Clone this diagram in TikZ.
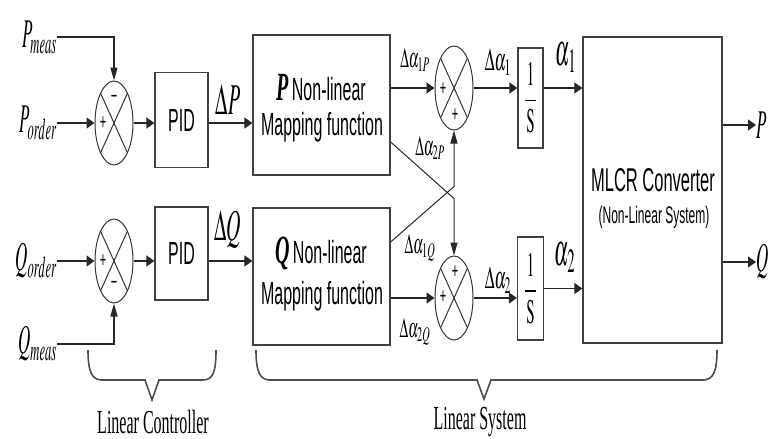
\documentclass[tikz,border=0pt]{standalone}
\usepackage{mathptmx}
\usepackage[no-math]{fontspec}
\setmainfont{Liberation Serif}
\setsansfont{Liberation Sans}
\usepackage{graphicx}
\usetikzlibrary{shapes.geometric,arrows.meta,calc}
\newcommand{\tall}[2][2]{\scalebox{1}[#1]{#2}}
\newcommand{\fs}[1]{\fontsize{#1}{#1}\selectfont}
\begin{document}
\begin{tikzpicture}[x=1pt,y=-1pt,
  blk/.style={draw=black!75, line width=1.3pt, rectangle, inner sep=0pt},
  sumn/.style={draw=black!80, line width=1pt, ellipse, minimum width=38pt, minimum height=84pt, inner sep=0pt},
  conn/.style={draw=black!85, line width=1.3pt},
  ha/.style={conn, -{Triangle[length=8pt,width=11pt]}},
  va/.style={conn, -{Triangle[length=13pt,width=7pt]}},
  lbl/.style={inner sep=0pt},
  sgn/.style={inner sep=0pt, font=\sffamily\fs{11}},
  brace/.style={draw=black!70, line width=1.6pt}]
\useasboundingbox (0,0) rectangle (774,439);

% sum junctions
\node[sumn] (s1) at (114,123) {};
\node[sumn] (s2) at (114,261) {};
\node[sumn] (s3) at (454,88) {};
\node[sumn] (s4) at (454,298) {};
\foreach \n in {s1,s2,s3,s4}{
  \draw[draw=black!80, line width=1pt] ([shift={(-13.4,-29.7)}]\n.center) -- ([shift={(13.4,29.7)}]\n.center);
  \draw[draw=black!80, line width=1pt] ([shift={(-13.4,29.7)}]\n.center) -- ([shift={(13.4,-29.7)}]\n.center);
}
\node[sgn] (s1a) at (103,123) {\tall{+}};
\node[sgn] (s1b) at (114,99) {\tall{\textminus}};
\node[sgn] (s2a) at (103,261) {\tall{+}};
\node[sgn] (s2b) at (114,285) {\tall{\textminus}};
\node[sgn] (s3a) at (443,89) {\tall{+}};
\node[sgn] (s3b) at (455,115) {\tall{+}};
\node[sgn] (s4a) at (455,272) {\tall{+}};
\node[sgn] (s4b) at (443,297) {\tall{+}};

% blocks
\node[blk, minimum width=53pt, minimum height=95pt] (pid1) at (181.5,120) {\tall{\sffamily\fs{16}PID}};
\node[blk, minimum width=53pt, minimum height=93pt] (pid2) at (181.5,253.5) {\tall{\sffamily\fs{16}PID}};
\node[blk, minimum width=137pt, minimum height=140pt] (pnl) at (321.5,105) {};
\node[blk, minimum width=137pt, minimum height=137pt] (qnl) at (321.5,276.5) {};
\node[blk, minimum width=25pt, minimum height=100pt] (box1) at (530.5,98) {\tall[2.3]{\fs{15}$\displaystyle\frac{\,1\,}{\,\mathrm{S}\,}$}};
\node[blk, minimum width=26pt, minimum height=103pt] (box2) at (530.5,288.5) {\tall[2.3]{\fs{15}$\displaystyle\frac{\,1\,}{\,\mathrm{S}\,}$}};
\node[blk, minimum width=139pt, minimum height=306pt] (mlcr) at (652.5,190) {};

% block texts
\node[lbl] (pt1) at (321,88) {\tall{\fs{20}\textbf{\textit{P}}\,\sffamily\fs{16}Non-linear}};
\node[lbl] (pt2) at (322,127) {\tall{\sffamily\fs{16}Mapping function}};
\node[lbl] (qt1) at (321,253) {\tall{\fs{20}\textbf{\textit{Q}}\,\sffamily\fs{16}Non-linear}};
\node[lbl] (qt2) at (322,296) {\tall{\sffamily\fs{16}Mapping function}};
\node[lbl] (mt1) at (653,180) {\tall{\sffamily\fs{16.5}MLCR Converter}};
\node[lbl] (mt2) at (654,217) {\tall{\sffamily\fs{12}(Non-Linear System)}};

% input labels
\node[lbl, anchor=east] (pm) at (57,37) {\tall[2.4]{\fs{17}$P_{meas}$}};
\node[lbl, anchor=east] (po) at (57,123) {\tall[2.4]{\fs{17}$P_{order}$}};
\node[lbl, anchor=east] (qo) at (57,261) {\tall[2.4]{\fs{17}$Q_{order}$}};
\node[lbl, anchor=east] (qm) at (57,344) {\tall[2.4]{\fs{17}$Q_{meas}$}};

% output labels
\node[lbl, anchor=west] (pout) at (756,125) {\tall[2.4]{\fs{17}$P$}};
\node[lbl, anchor=west] (qout) at (756,262) {\tall[2.4]{\fs{17}$Q$}};

% connector labels
\node[lbl] (ldp) at (228,99) {\tall[2.2]{\fs{20}$\Delta P$}};
\node[lbl] (ldq) at (228,229) {\tall[2.2]{\fs{20}$\Delta Q$}};
\node[lbl] (l1p) at (415,60) {\tall{\fs{14}$\Delta\alpha_{1P}$}};
\node[lbl] (l2p) at (430,148) {\tall{\fs{14}$\Delta\alpha_{2P}$}};
\node[lbl] (l1q) at (420,248) {\tall{\fs{14}$\Delta\alpha_{1Q}$}};
\node[lbl] (l2q) at (415,332) {\tall{\fs{14}$\Delta\alpha_{2Q}$}};
\node[lbl] (l1) at (498,62) {\tall{\fs{16}$\Delta\alpha_1$}};
\node[lbl] (l2) at (498,280) {\tall{\fs{16}$\Delta\alpha_2$}};
\node[lbl] (la1) at (566,58) {\tall[2.3]{\fs{20}$\alpha_1$}};
\node[lbl] (la2) at (565,258) {\tall[2.3]{\fs{20}$\alpha_2$}};

% connectors
\draw[va] (pm.east) -| (s1.north);
\draw[ha] (po.east) -- (s1.west);
\draw[ha] (s1.east) -- (pid1.west |- s1);
\draw[ha] (pid1.east |- s1) -- (pnl.west |- s1);
\draw[ha] (qo.east) -- (s2.west);
\draw[va] (qm.east) -| (s2.south);
\draw[ha] (s2.east) -- (pid2.west |- s2);
\draw[ha] (pid2.east |- s2) -- (qnl.west |- s2);
\draw[ha] (pnl.east |- s3) -- (s3.west);
\draw[ha] (s3.east) -- (box1.west |- s3);
\draw[ha] (box1.east |- s3) -- (mlcr.west |- s3);
\draw[ha] (qnl.east |- s4) -- (s4.west);
\draw[ha] (s4.east) -- (box2.west |- s4);
\draw[ha] (box2.east) -- (mlcr.west |- box2.east);
\draw[va, line width=1pt] ([yshift=-37pt]pnl.east) -- ($(s4.north)+(0,-57)$) -- (s4.north);
\draw[va, line width=1pt] ([yshift=34.5pt]qnl.east) -- ($(s3.south)+(0,56)$) -- (s3.south);
\draw[ha] (mlcr.east |- pout.west) -- (pout.west);
\draw[ha] (mlcr.east |- qout.west) -- (qout.west);

% braces
\draw[brace] (88,350) .. controls (88,372) and (92,380) .. (102,380) -- (145,380) -- (152,400) -- (159,380) -- (203,380) .. controls (213,380) and (216,372) .. (216,350);
\draw[brace] (256,350) .. controls (256,372) and (260,380) .. (270,380) -- (477,380) -- (484,399) -- (491,380) -- (703,380) .. controls (713,380) and (717,372) .. (717,350);
\node[lbl] (lc) at (153,422) {\tall[2.1]{\fs{16}Linear Controller}};
\node[lbl] (ls) at (480,422) {\tall[2.1]{\fs{16}Linear System}};
\end{tikzpicture}
\end{document}
